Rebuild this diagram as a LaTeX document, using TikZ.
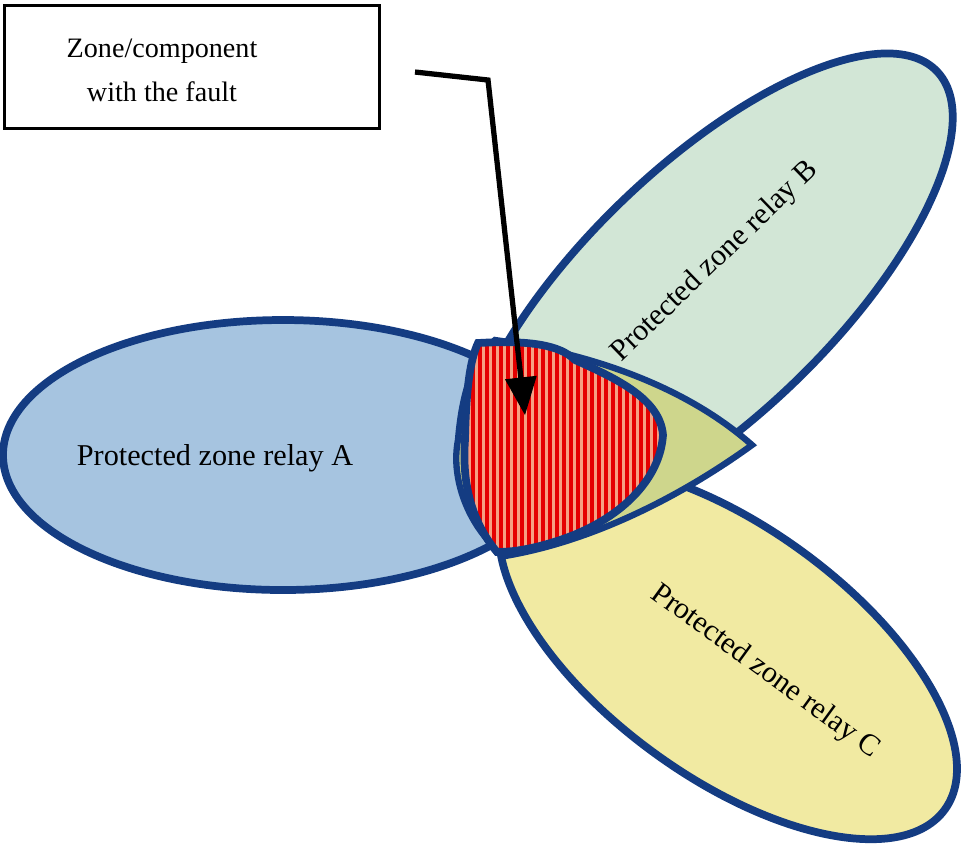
\documentclass[tikz,border=0pt]{standalone}
\usepackage{fontspec}
\setmainfont{Liberation Serif}
\usetikzlibrary{arrows}
\definecolor{zoneA}{RGB}{166,196,224}
\definecolor{zoneB}{RGB}{210,230,214}
\definecolor{zoneC}{RGB}{241,234,162}
\definecolor{lens}{RGB}{206,214,140}
\definecolor{rim}{RGB}{20,60,130}
\definecolor{faultbg}{RGB}{246,160,130}
\begin{document}
\begin{tikzpicture}[x=0.01cm,y=-0.01cm,
    zone/.style={draw=rim, line width=2.2pt},
    lbl/.style={font=\fontsize{8.6}{10}\selectfont}]
\useasboundingbox (0,0) rectangle (963,850);
\fill[white] (0,0) rectangle (963,850);
% zones of the relays
\draw[zone, fill=zoneA] (283,455) ellipse [x radius=280, y radius=135];
\draw[zone, fill=zoneB, rotate around={44:(708,292)}] (708,292) ellipse [x radius=318, y radius=125];
\draw[zone, fill=zoneC, rotate around={-36:(728,652)}] (728,652) ellipse [x radius=268, y radius=125];
% overlap
\draw[zone, line width=1.8pt, fill=lens] (495,340) .. controls (600,355) and (690,390) .. (752,445)
    .. controls (690,490) and (600,540) .. (505,556)
    .. controls (470,530) and (450,480) .. (458,440)
    .. controls (462,390) and (475,355) .. (495,340) -- cycle;
% zone with the fault
\begin{scope}
\path[clip] (478,343) .. controls (530,340) and (560,345) .. (575,360)
    .. controls (620,380) and (660,400) .. (663,435)
    .. controls (660,480) and (620,520) .. (560,540)
    .. controls (530,550) and (510,552) .. (497,552)
    .. controls (470,520) and (462,480) .. (465,440)
    .. controls (466,390) and (470,360) .. (478,343) -- cycle;
\fill[faultbg] (450,330) rectangle (680,560);
\foreach \x in {466,473,...,670} \draw[red!90!black, line width=0.9pt] (\x,330) -- (\x,560);
\end{scope}
\draw[rim, line width=2.2pt] (478,343) .. controls (530,340) and (560,345) .. (575,360)
    .. controls (620,380) and (660,400) .. (663,435)
    .. controls (660,480) and (620,520) .. (560,540)
    .. controls (530,550) and (510,552) .. (497,552)
    .. controls (470,520) and (462,480) .. (465,440)
    .. controls (466,390) and (470,360) .. (478,343) -- cycle;
% labels
\node[lbl] (relayA) at (215,458) {Protected zone relay A};
\node[lbl, rotate=44] (relayB) at (715,262) {Protected zone relay B};
\node[lbl, rotate=-36] (relayC) at (765,672) {Protected zone relay C};
\node[draw, line width=0.8pt, fill=white, minimum width=3.75cm, minimum height=1.23cm] (box) at (192,67) {};
\node[font=\fontsize{8}{12.5}\selectfont, align=center] (fault) at (162,70) {Zone/component\\with the fault};
\coordinate (bend) at (488,80);
\coordinate (tip) at (525,415);
\draw[line width=1.5pt, -triangle 45] (415,72) -- (bend) -- (tip);
\end{tikzpicture}
\end{document}
